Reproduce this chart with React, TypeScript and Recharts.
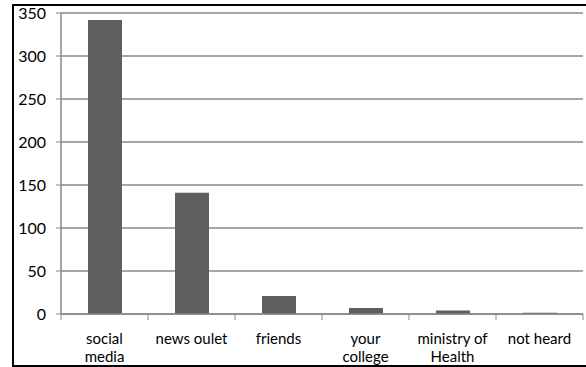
import { Bar, BarChart, CartesianGrid, XAxis, YAxis } from "recharts";

const categories = [
  "social media",
  "news oulet",
  "friends",
  "your college",
  "ministry of Health",
  "not heard"
];
const counts = [342, 141, 21, 7, 4, 1.5];
const yTicks = [0, 50, 100, 150, 200, 250, 300, 350];

const W = 586;
const H = 367;
const margin = { top: 13, right: 3, bottom: 3, left: 11 };
const yAxisWidth = 50;
const xAxisHeight = 50;
const plotW = W - margin.left - margin.right - yAxisWidth;
const axisY = H - margin.bottom - xAxisHeight;
const step = plotW / categories.length;
const font = "Lato, 'Open Sans', sans-serif";

// wrap long labels at the last space, like the original
function splitLabel(s: string) {
  if (s.length <= 10) return [s];
  const i = s.lastIndexOf(" ");
  return [s.slice(0, i), s.slice(i + 1)];
}

function CategoryTick(props: any) {
  const { x, payload, index } = props;
  const lines = splitLabel(String(payload.value));
  const left = x - step / 2;
  return (
    <g>
      <line x1={left} x2={left} y1={axisY} y2={axisY + 6} stroke="#888" />
      {index === categories.length - 1 && (
        <line x1={left + step} x2={left + step} y1={axisY} y2={axisY + 6} stroke="#888" />
      )}
      {lines.map((t, i) => (
        <text
          key={i}
          x={x}
          y={axisY + 30 + i * 18}
          textAnchor="middle"
          fill="#000"
          fontSize={15}
          fontFamily={font}
        >
          {t}
        </text>
      ))}
    </g>
  );
}

export default function App() {
  const data = categories.map((name, i) => ({ name, value: counts[i] }));
  return (
    <div style={{ position: "absolute", left: 0, top: 0, width: W, height: H }}>
      <div
        style={{
          position: "absolute",
          left: 12,
          top: 4,
          width: W,
          height: 363,
          borderLeft: "2px solid #000",
          borderTop: "2px solid #000",
          borderBottom: "2px solid #000",
          boxSizing: "border-box"
        }}
      />
      <div style={{ position: "absolute", left: 0, top: 0 }}>
        <BarChart width={W} height={H} data={data} margin={margin}>
          <CartesianGrid vertical={false} stroke="#888" strokeWidth={1.5} />
          <XAxis
            dataKey="name"
            interval={0}
            height={xAxisHeight}
            axisLine={{ stroke: "#888", strokeWidth: 1.5 }}
            tickLine={false}
            tick={<CategoryTick />}
          />
          <YAxis
            width={yAxisWidth}
            domain={[0, 350]}
            ticks={yTicks}
            interval={0}
            tickSize={5}
            tickMargin={10}
            axisLine={{ stroke: "#888", strokeWidth: 1.5 }}
            tickLine={{ stroke: "#888" }}
            tick={{ fill: "#000", fontSize: 16, fontFamily: font }}
          />
          <Bar dataKey="value" fill="#5f5f5f" barSize={34} isAnimationActive={false} />
        </BarChart>
      </div>
    </div>
  );
}
